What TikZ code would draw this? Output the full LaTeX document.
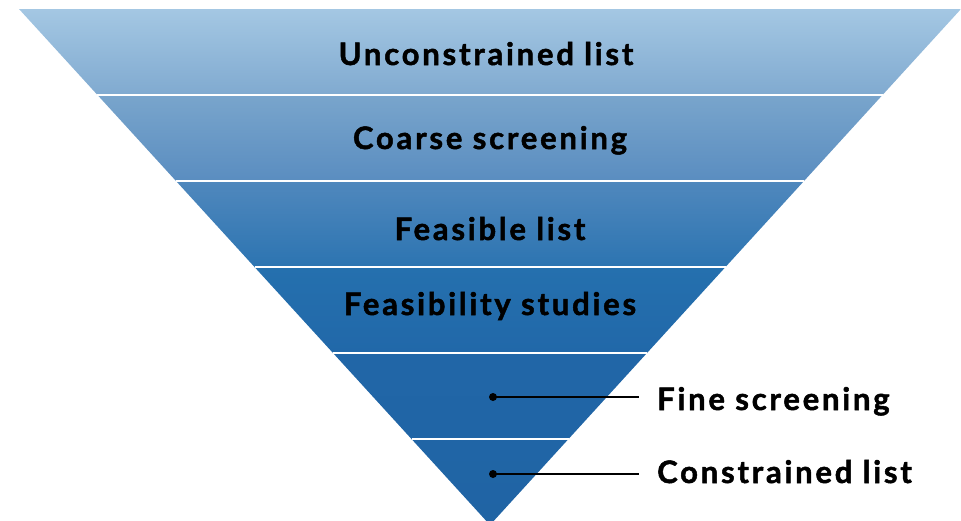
\documentclass[tikz,border=0pt]{standalone}
\usepackage{fontspec}
\setmainfont{Lato}[BoldFeatures={LetterSpace=9,FakeBold=1.6}]
\usetikzlibrary{calc}
\definecolor{cA}{HTML}{A4C7E3}
\definecolor{cB}{HTML}{80AAD0}
\definecolor{cC}{HTML}{79A5CC}
\definecolor{cD}{HTML}{5A8DC0}
\definecolor{cE}{HTML}{5088BD}
\definecolor{cF}{HTML}{2C74B1}
\definecolor{cG}{HTML}{2570AE}
\definecolor{cH}{HTML}{2168A9}
\definecolor{cI}{HTML}{2166A7}
\definecolor{cJ}{HTML}{2065A6}
\definecolor{cK}{HTML}{2064A4}
\tikzset{
  bandtext/.style={font=\fontsize{31}{36}\selectfont\bfseries, text=black, inner sep=0pt, anchor=base},
  sidetext/.style={font=\fontsize{31}{36}\selectfont\bfseries, text=black, inner sep=0pt, anchor=base west},
  sep/.style={draw=white, line width=2pt},
  dotnode/.style={circle, fill=black, inner sep=0pt, minimum size=8pt},
  leader/.style={draw=black, line width=1.9pt},
}
\begin{document}
\begin{tikzpicture}[x=1pt,y=-1pt]
\useasboundingbox (0,0) rectangle (961,520);
\begin{scope}
\clip (0,0) rectangle (961,520);
\coordinate (TL) at (19,9);
\coordinate (TR) at (961,9);
\coordinate (AP) at (490,525);
\foreach \k in {0,...,6}{
  \coordinate (L\k) at ($(TL)!\k/6!(AP)$);
  \coordinate (R\k) at ($(TR)!\k/6!(AP)$);
}
\shade[top color=cA, bottom color=cB] (L0) -- (R0) -- (R1) -- (L1) -- cycle;
\shade[top color=cC, bottom color=cD] (L1) -- (R1) -- (R2) -- (L2) -- cycle;
\shade[top color=cE, bottom color=cF] (L2) -- (R2) -- (R3) -- (L3) -- cycle;
\shade[top color=cG, bottom color=cH] (L3) -- (R3) -- (R4) -- (L4) -- cycle;
\shade[top color=cI, bottom color=cJ] (L4) -- (R4) -- (R5) -- (L5) -- cycle;
\shade[top color=cJ, bottom color=cK] (L5) -- (R5) -- (AP) -- cycle;
\foreach \k in {1,...,5}{
  \draw[sep] (L\k) -- (R\k);
}
\end{scope}
\node[bandtext] (t1) at (486,65) {Unconstrained list};
\node[bandtext] (t2) at (490,149) {Coarse screening};
\node[bandtext] (t3) at (490,240) {Feasible list};
\node[bandtext] (t4) at (490,315) {Feasibility studies};
\node[dotnode] (d1) at (493,397) {};
\node[dotnode] (d2) at (493,474) {};
\node[sidetext] (s1) at (657,410) {Fine screening};
\node[sidetext] (s2) at (657,483) {Constrained list};
\coordinate (e1) at (639,397);
\coordinate (e2) at (639,474);
\draw[leader] (d1.center) -- (e1);
\draw[leader] (d2.center) -- (e2);
\end{tikzpicture}
\end{document}
